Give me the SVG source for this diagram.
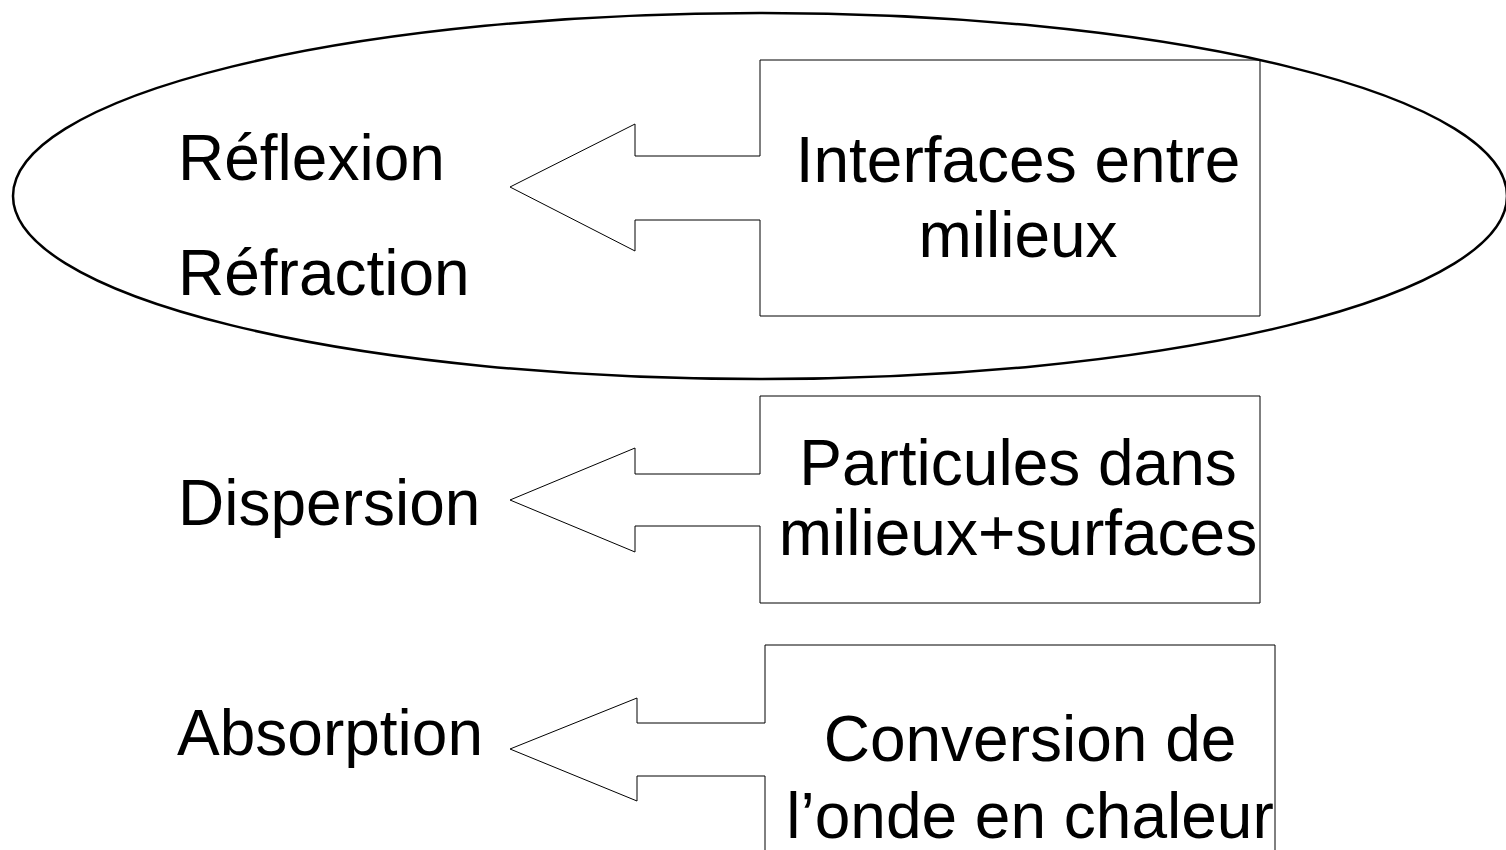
<svg xmlns="http://www.w3.org/2000/svg" width="1506" height="850" viewBox="0 0 1506 850">
  <style>
    .lbl { font-family: "Liberation Sans", Arial, sans-serif; font-size: 64px; fill: #000; }
    .mid { text-anchor: middle; }
    .edge { fill: none; stroke: #000; stroke-width: 1; }
    .group { fill: none; stroke: #000; stroke-width: 2.5; }
  </style>
  <rect width="1506" height="850" fill="#fff"/>

  <!-- grouping around the interface phenomena -->
  <ellipse id="interface-group" class="group" cx="760" cy="196" rx="747" ry="183"/>

  <!-- cause boxes (left side open where the arrow shaft joins) -->
  <g id="box-interfaces">
    <path class="edge" d="M760,156 V60 H1260 V316 H760 V220"/>
    <text class="lbl mid" x="1018" y="182">Interfaces entre</text>
    <text class="lbl mid" x="1018" y="257">milieux</text>
  </g>
  <g id="box-particules">
    <path class="edge" d="M760,474 V396 H1260 V603 H760 V526"/>
    <text class="lbl mid" x="1018" y="485">Particules dans</text>
    <text class="lbl mid" x="1018" y="555">milieux+surfaces</text>
  </g>
  <g id="box-conversion">
    <path class="edge" d="M765,723 V645 H1275 V860 M765,776 V860"/>
    <text class="lbl mid" x="1030" y="761">Conversion de</text>
    <text class="lbl mid" x="1030" y="838">l’onde en chaleur</text>
  </g>

  <!-- effect labels -->
  <g id="lbl-reflexion"><text class="lbl" x="178" y="180">Réflexion</text></g>
  <g id="lbl-refraction"><text class="lbl" x="178" y="295">Réfraction</text></g>
  <g id="lbl-dispersion"><text class="lbl" x="178" y="525">Dispersion</text></g>
  <g id="lbl-absorption"><text class="lbl" x="177" y="755">Absorption</text></g>

  <!-- block arrows from each cause to its effects -->
  <g id="connectors">
    <path class="edge" d="M760,156 H635 V124 L510,187 L635,251 V220 H760"/>
    <path class="edge" d="M760,474 H635 V448 L510,500 L635,552 V526 H760"/>
    <path class="edge" d="M765,723 H637 V698 L510,749 L637,801 V776 H765"/>
  </g>
</svg>
